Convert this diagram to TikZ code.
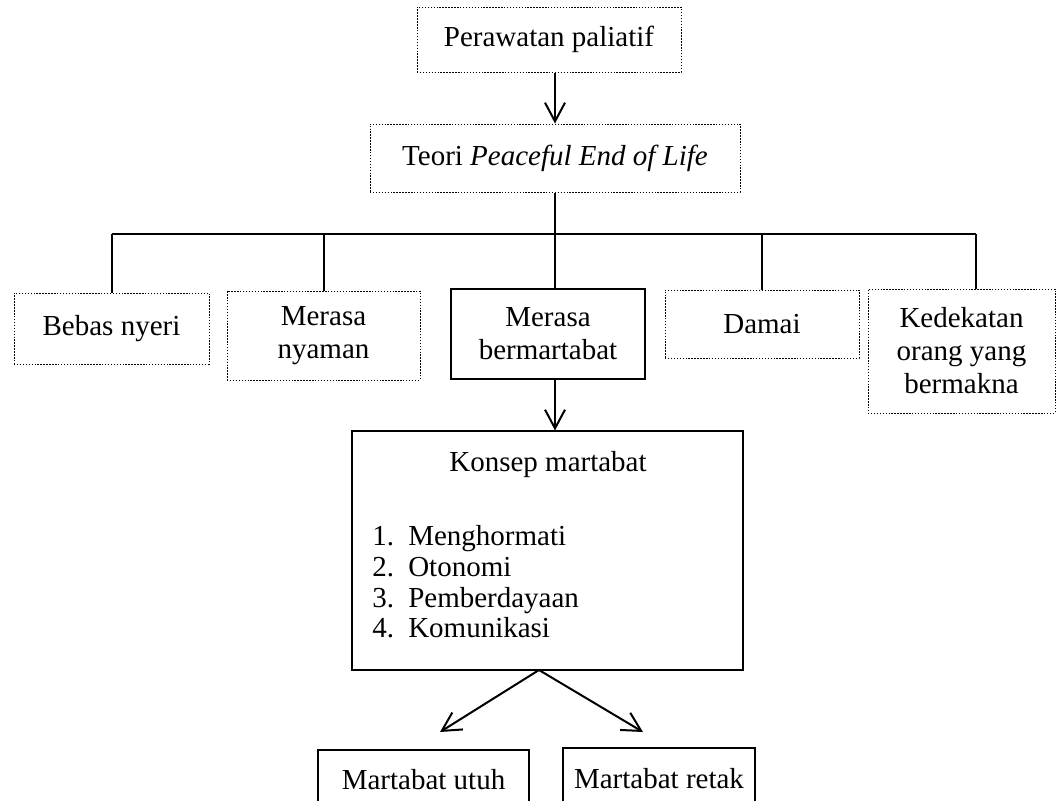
\documentclass[tikz,border=0pt]{standalone}
\usepackage{fontspec}
\setmainfont{Liberation Serif}
\usetikzlibrary{arrows.meta,positioning}
\begin{document}
\begin{tikzpicture}[x=0.75pt,y=-0.75pt, every node/.style={font=\fontsize{21.75}{24.75}\selectfont}]
    % Styles
        \tikzstyle{dotbox} = [rectangle, draw, line width=0.75pt, dash pattern=on 1.1pt off 1.1pt, text centered, align=center, inner sep=0pt]
        \tikzstyle{block} = [rectangle, draw, line width=0.8pt, text centered, align=center, inner sep=0pt]
        \tikzstyle{line} = [draw, line width=1.5pt]
        \tikzstyle{arrow} = [draw, line width=1.5pt, -{Straight Barb[length=14pt,width=15pt]}]
        \useasboundingbox (0,0) rectangle (1057,800);
    % top
        \node [dotbox, minimum width=198pt, minimum height=48.75pt] (paliatif) at (549,39.5) {Perawatan paliatif};
        \node [dotbox, minimum width=277.5pt, minimum height=51pt] (teori) at (555,158) {Teori \textit{Peaceful End of Life}};
    % middle row
        \node [dotbox, minimum width=146.25pt, minimum height=53.25pt] (bebas) at (111.5,328.5) {Bebas nyeri};
        \node [dotbox, minimum width=144.75pt, minimum height=66.75pt] (nyaman) at (323.5,335.5) {Merasa\\nyaman};
        \node [block, minimum width=145.5pt, minimum height=67.5pt] (bermartabat) at (548,334) {Merasa\\bermartabat};
        \node [dotbox, minimum width=145.5pt, minimum height=51pt] (damai) at (762,324) {Damai};
        \node [dotbox, minimum width=140.25pt, minimum height=93pt] (kedekatan) at (961.5,351) {Kedekatan\\orang yang\\bermakna};
    % concept
        \node [block, minimum width=293.25pt, minimum height=179.25pt] (konsep) at (547.5,550.5) {};
        \node [inner sep=0pt] (judul) at (548,465) {Konsep martabat};
        \node [anchor=west, align=left, inner sep=0pt, font=\fontsize{21.75}{23}\selectfont] (daftar) at (372,582)
            {\makebox[27pt][l]{1.}Menghormati\\\makebox[27pt][l]{2.}Otonomi\\\makebox[27pt][l]{3.}Pemberdayaan\\\makebox[27pt][l]{4.}Komunikasi};
    % bottom row
        \node [block, minimum width=158.25pt, minimum height=45pt] (utuh) at (423.5,780) {Martabat utuh};
        \node [block, minimum width=144pt, minimum height=46.5pt] (retak) at (659,779) {Martabat retak};
    % Draw edges
        \coordinate (kanan) at (976,234);
        \coordinate (pisah) at (539,670);
        \coordinate (ujungkiri) at (440,732);
        \coordinate (ujungkanan) at (643,732);
        \path [arrow] (paliatif.south -| teori.south) -- (teori.north);
        \path [line] (teori.south) -- (bermartabat.north -| teori.south);
        \path [line] (bebas.north |- kanan) -- (kanan);
        \path [line] (bebas.north |- kanan) -- (bebas.north);
        \path [line] (nyaman.north |- kanan) -- (nyaman.north);
        \path [line] (damai.north |- kanan) -- (damai.north);
        \path [line] (kanan) -- (kanan |- kedekatan.north);
        \path [arrow] (bermartabat.south -| teori.south) -- (konsep.north -| teori.south);
        \path [arrow] (pisah) -- (ujungkiri);
        \path [arrow] (pisah) -- (ujungkanan);
\end{tikzpicture}
\end{document}
